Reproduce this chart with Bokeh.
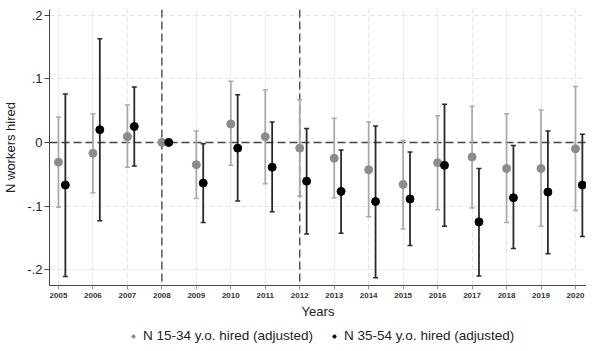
import numpy as np
from bokeh.plotting import figure
from bokeh.layouts import column
from bokeh.models import (ColumnDataSource, Whisker, TeeHead, Span, FixedTicker,
                          CustomJSTickFormatter, Legend, LegendItem, Range1d)
from bokeh.embed import file_html
from bokeh.resources import INLINE

years = list(range(2005, 2021))

young_est = [-0.031, -0.017, 0.009, 0.0, -0.035, 0.029, 0.009, -0.009,
             -0.025, -0.043, -0.066, -0.032, -0.023, -0.041, -0.041, -0.010]
young_hi = [0.040, 0.045, 0.059, np.nan, 0.018, 0.096, 0.083, 0.067,
            0.038, 0.032, 0.003, 0.042, 0.057, 0.045, 0.051, 0.088]
young_lo = [-0.102, -0.079, -0.039, np.nan, -0.088, -0.036, -0.065, -0.084,
            -0.087, -0.117, -0.136, -0.106, -0.103, -0.126, -0.132, -0.107]

old_est = [-0.067, 0.020, 0.025, 0.0, -0.064, -0.009, -0.039, -0.061,
           -0.077, -0.093, -0.089, -0.036, -0.125, -0.087, -0.078, -0.067]
old_hi = [0.076, 0.163, 0.087, np.nan, -0.002, 0.075, 0.032, 0.022,
          -0.012, 0.026, -0.015, 0.060, -0.041, -0.005, 0.018, 0.013]
old_lo = [-0.211, -0.123, -0.037, np.nan, -0.126, -0.092, -0.109, -0.144,
          -0.143, -0.213, -0.162, -0.132, -0.210, -0.167, -0.175, -0.148]

y_ticks = [-0.2, -0.1, 0.0, 0.1, 0.2]
event_years = [2008, 2012]
offset = 0.2

FONT = "Liberation Sans"

src_y = ColumnDataSource(dict(x=years, est=young_est, hi=young_hi, lo=young_lo))
src_o = ColumnDataSource(dict(x=[y + offset for y in years], est=old_est, hi=old_hi, lo=old_lo))

p = figure(frame_width=537, frame_height=276, output_backend="svg", toolbar_location=None,
           x_range=Range1d(2004.74, 2020.32), y_range=Range1d(-0.225, 0.209),
           min_border_left=41, min_border_right=0, min_border_top=9, min_border_bottom=38)
p.outline_line_color = None
p.background_fill_color = "white"

# grids
for g in (p.xgrid, p.ygrid):
    g.grid_line_color = "#e4e4e4"
    g.grid_line_dash = "5 3"
    g.grid_line_width = 1

# axes
p.xaxis.ticker = FixedTicker(ticks=years)
p.yaxis.ticker = FixedTicker(ticks=y_ticks)
p.yaxis.formatter = CustomJSTickFormatter(code="""
    if (Math.abs(tick) < 1e-9) { return '0'; }
    return tick.toFixed(1).replace('0.', '.');
""")
p.xaxis.axis_label = "Years"
p.yaxis.axis_label = "N workers hired"
for ax in (p.xaxis, p.yaxis):
    ax.axis_label_text_font = FONT
    ax.axis_label_text_font_size = "13px"
    ax.axis_label_text_font_style = "normal"
    ax.axis_label_text_color = "#222222"
    ax.major_label_text_font = FONT
    ax.minor_tick_line_color = None
    ax.axis_line_color = "#444444"
    ax.major_tick_line_color = "#444444"
p.yaxis.major_label_text_font_size = "13px"
p.yaxis.major_label_text_color = "#222222"
p.yaxis.major_tick_out = 5
p.yaxis.major_tick_in = 0
p.yaxis.major_label_standoff = 2
p.yaxis.axis_label_standoff = 6
p.xaxis.major_label_text_font_size = "8px"
p.xaxis.major_label_text_font_style = "bold"
p.xaxis.major_label_text_color = "#333333"
p.xaxis.major_tick_out = 4
p.xaxis.major_tick_in = 0
p.xaxis.major_tick_line_color = "#999999"
p.xaxis.major_label_standoff = 3
p.xaxis.axis_label_standoff = 3

# reference lines
zero = Span(location=0, dimension="width", line_color="#444444", line_dash="8 4",
            line_width=1.5, level="underlay")
p.add_layout(zero)
for ev in event_years:
    p.add_layout(Span(location=ev, dimension="height", line_color="#555555",
                      line_dash="8 4", line_width=1.5, level="underlay"))

# error bars
wy = Whisker(source=src_y, base="x", upper="hi", lower="lo", line_color="#aaaaaa",
             line_width=1.8,
             upper_head=TeeHead(size=5, line_color="#aaaaaa", line_width=1.5),
             lower_head=TeeHead(size=5, line_color="#aaaaaa", line_width=1.5))
wo = Whisker(source=src_o, base="x", upper="hi", lower="lo", line_color="#2a2a2a",
             line_width=1.8,
             upper_head=TeeHead(size=5, line_color="#2a2a2a", line_width=1.5),
             lower_head=TeeHead(size=5, line_color="#2a2a2a", line_width=1.5))
p.add_layout(wy)
p.add_layout(wo)

p.scatter("x", "est", source=src_y, size=8, color="#8c8c8c")
p.scatter("x", "est", source=src_o, size=8, color="#000000")

# legend strip (separate small figure below the chart)
lg = figure(width=578, height=20, output_backend="svg", toolbar_location=None,
            x_range=Range1d(0, 1), y_range=Range1d(0, 1),
            x_axis_location=None, y_axis_location=None,
            min_border_left=0, min_border_right=0, min_border_top=0, min_border_bottom=0)
lg.grid.visible = False
lg.outline_line_color = None
ly = lg.scatter(x=[np.nan], y=[np.nan], size=5, color="#8c8c8c")
lo = lg.scatter(x=[np.nan], y=[np.nan], size=5, color="#000000")
legend = Legend(items=[LegendItem(label="N 15-34 y.o. hired (adjusted)", renderers=[ly]),
                       LegendItem(label="N 35-54 y.o. hired (adjusted)", renderers=[lo])],
                orientation="horizontal", location=(80, 0),
                label_text_font=FONT, label_text_font_size="13.5px",
                label_text_color="#222222",
                glyph_width=8, glyph_height=14, spacing=17, label_standoff=6,
                border_line_color=None, background_fill_alpha=0,
                margin=0, padding=0)
lg.add_layout(legend, "center")

layout = column(p, lg)
open("out.html", "w").write(file_html(layout, INLINE))
